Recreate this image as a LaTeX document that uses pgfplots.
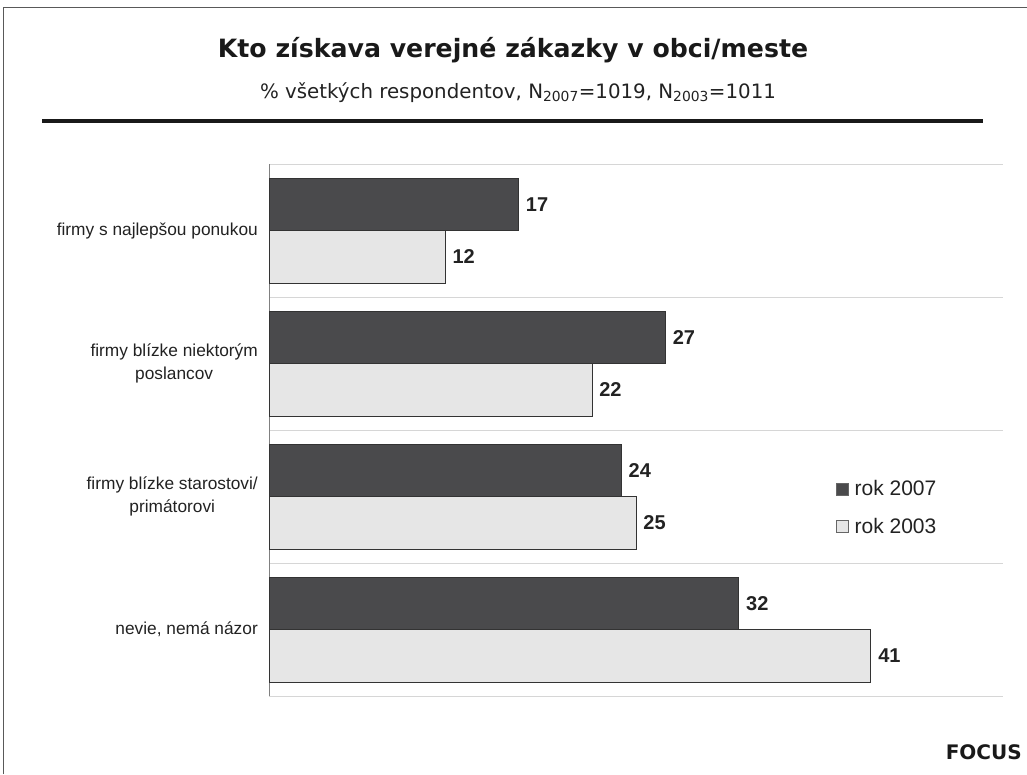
\documentclass[border=0pt]{standalone}
\usepackage{pgfplots}
\pgfplotsset{compat=1.18}
\usepackage{fontspec}
\setmainfont{Liberation Sans}
\newfontfamily\verdana{DejaVu Sans}
\definecolor{darkbar}{HTML}{4A4A4C}
\definecolor{lightbar}{HTML}{E6E6E6}
\definecolor{gridc}{HTML}{D6D6D6}
\definecolor{txt}{HTML}{222222}
\begin{document}
\begin{tikzpicture}[x=1pt,y=1pt]
\path[use as bounding box] (0,0) rectangle (1027,774);
% frame
\draw[color=black!65, line width=1pt] (3,0) -- (3,766) -- (1027,766);
% title
\node[font=\verdana\bfseries\fontsize{25.2}{28}\selectfont, text=black!90] at (513,724) {Kto získava verejné zákazky v obci/meste};
\node[font=\verdana\fontsize{19.8}{22}\selectfont, text=txt] at (518,681) {\% všetkých respondentov, N\textsubscript{2007}=1019, N\textsubscript{2003}=1011};
\draw[line width=3.5pt, color=black!90] (42,653) -- (983,653);
\node[font=\verdana\bfseries\fontsize{20}{22}\selectfont, text=black!90, anchor=east, inner sep=0pt] at (1022,22) {FOCUS};
\begin{axis}[
  at={(269pt,78pt)}, anchor=south west,
  scale only axis, width=734pt, height=532pt,
  xbar,
  xmin=0, xmax=50,
  ymin=-0.5, ymax=3.5,
  hide x axis,
  axis y line*=left,
  y axis line style={color=black!50, line width=1pt, -},
  ytick={0,1,2,3},
  yticklabels={{nevie, nemá názor},{firmy blízke starostovi/\\primátorovi},{firmy blízke niektorým\\poslancov},{firmy s najlepšou ponukou}},
  yticklabel style={align=center, font=\fontsize{17.3}{23}\selectfont, text=txt, inner sep=0pt, xshift=-11pt},
  major tick length=0pt,
  minor ytick={-0.5,0.5,1.5,2.5,3.5},
  minor tick length=0pt,
  yminorgrids=true,
  minor grid style={color=gridc, line width=1pt},
  bar width=0.395,
  /pgf/number format/assume math mode=true,
  nodes near coords,
  nodes near coords style={font=\bfseries\fontsize{20}{22}\selectfont, text=txt, anchor=west, inner sep=0pt, xshift=7pt},
  legend style={at={(0.772,0.409)}, anchor=north west, draw=none, fill=none,
    font=\fontsize{21}{24}\selectfont, text=txt, row sep=17pt, inner sep=0pt,
    nodes={inner sep=2pt}},
  legend cell align=left,
  clip=false,
]
\addplot[draw=black!80, line width=0.8pt, fill=darkbar, bar shift=0.197,
  legend image code/.code={\draw[fill=darkbar, draw=black!60, line width=0.8pt] (0pt,-6pt) rectangle (12pt,6pt); \path (16pt,0pt);}]
  coordinates {(32,0) (24,1) (27,2) (17,3)};
\addlegendentry{rok 2007}
\addplot[draw=black!80, line width=0.8pt, fill=lightbar, bar shift=-0.197,
  legend image code/.code={\draw[fill=lightbar, draw=black!60, line width=0.8pt] (0pt,-6pt) rectangle (12pt,6pt); \path (16pt,0pt);}]
  coordinates {(41,0) (25,1) (22,2) (12,3)};
\addlegendentry{rok 2003}
\end{axis}
\end{tikzpicture}
\end{document}
